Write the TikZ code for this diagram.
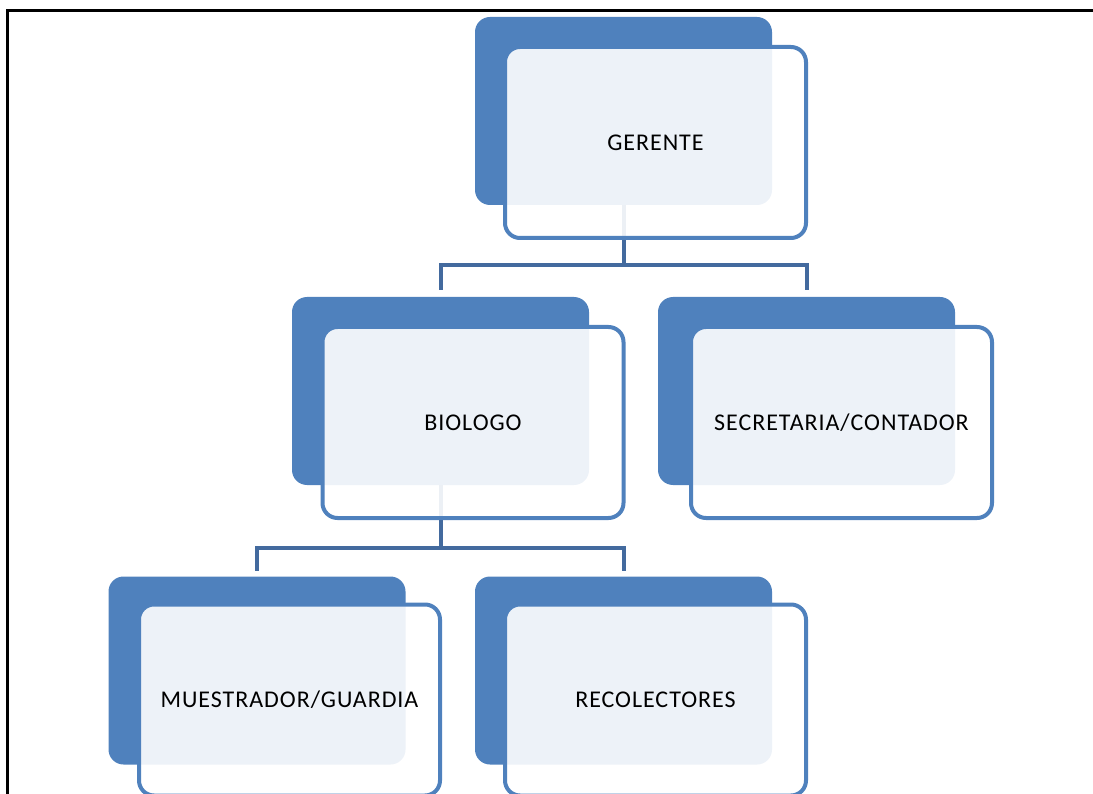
\documentclass[tikz,border=0pt]{standalone}
\usepackage{fontspec}
\newfontfamily\boxfont[LetterSpace=4]{Carlito}
\definecolor{darkbox}{RGB}{79,129,189}
\definecolor{connc}{RGB}{67,106,158}
\begin{document}
\begin{tikzpicture}[x=1pt,y=-1pt,
  backbox/.style={draw=none,fill=darkbox,rounded corners=15pt,minimum width=297pt,minimum height=188pt,inner sep=0pt,outer sep=0pt},
  frontbox/.style={draw=darkbox,line width=4pt,fill=white,fill opacity=0.9,text opacity=1,rounded corners=15pt,minimum width=301pt,minimum height=191pt,inner sep=0pt,outer sep=0pt,font=\boxfont\fontsize{24pt}{28pt}\selectfont,text=black},
  conn/.style={draw=connc,line width=4pt}]
\useasboundingbox (0,0) rectangle (1093,794);
\draw[line width=3pt] (7,794) -- (7,11) -- (1093,11);
% back boxes
\node[backbox] (gd) at (623.5,111) {};
\node[backbox] (bd) at (440.5,391) {};
\node[backbox] (sd) at (806.5,391) {};
\node[backbox] (md) at (257,670.5) {};
\node[backbox] (rd) at (623.5,670.5) {};
% connectors
\draw[conn] (gd.south) -- ++(0,60) coordinate (gj);
\draw[conn] (gj) -| ([yshift=7pt]bd.north);
\draw[conn] (gj) -| ([yshift=7pt]sd.north);
\draw[conn] (bd.south) -- ++(0,63) coordinate (bj);
\draw[conn] (bj) -| ([yshift=6pt]md.north);
\draw[conn] (bj) -| ([yshift=6pt]rd.north);
% front boxes
\node[frontbox] (g) at (655.5,142.5) {GERENTE};
\node[frontbox] (b) at (473,422.5) {BIOLOGO};
\node[frontbox] (s) at (841.5,422.5) {SECRETARIA/CONTADOR};
\node[frontbox] (m) at (289.5,700) {MUESTRADOR/GUARDIA};
\node[frontbox] (r) at (655.5,700) {RECOLECTORES};
\end{tikzpicture}
\end{document}
